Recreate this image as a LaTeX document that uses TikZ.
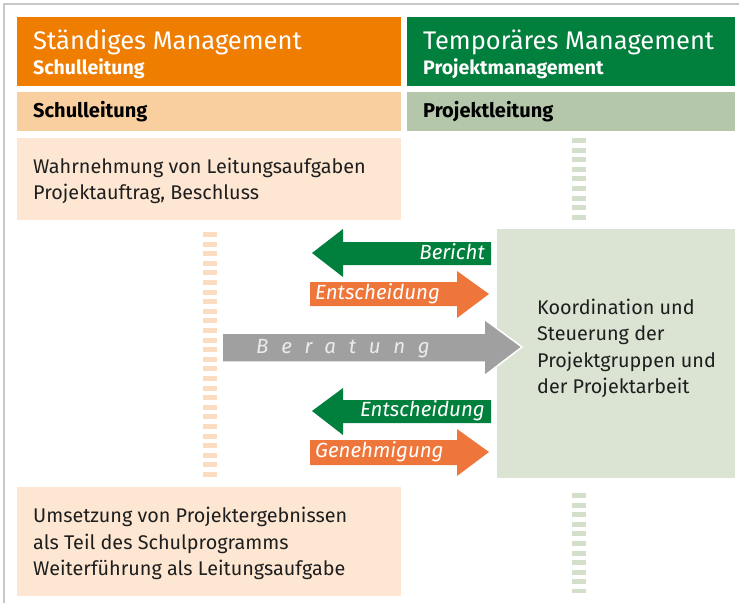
\documentclass[tikz,border=0pt]{standalone}
\usepackage{fontspec}
\setmainfont{Fira Sans}
\usetikzlibrary{positioning}

\definecolor{mgmtOrange}{RGB}{239,125,0}
\definecolor{mgmtGreen}{RGB}{0,127,61}
\definecolor{rowOrange}{RGB}{249,207,160}
\definecolor{rowGreen}{RGB}{180,199,170}
\definecolor{paleOrange}{RGB}{253,231,211}
\definecolor{paleGreen}{RGB}{219,228,211}
\definecolor{arrOrange}{RGB}{238,118,58}
\definecolor{arrGreen}{RGB}{0,128,60}
\definecolor{arrGray}{RGB}{160,160,160}
\definecolor{stripeOrange}{RGB}{251,222,193}
\definecolor{stripeGreen}{RGB}{212,223,203}
\definecolor{frameGray}{RGB}{200,200,200}
\definecolor{bodyText}{RGB}{30,30,30}

\tikzset{%
  % Specifications for style of nodes:
        base/.style = {rectangle, inner sep=0pt, outer sep=0pt,
                       anchor=north west},
   headLeft/.style = {base, fill=mgmtOrange, minimum width=384pt,
                      minimum height=69pt},
  headRight/.style = {base, fill=mgmtGreen, minimum width=328pt,
                      minimum height=69pt},
    rowLeft/.style = {base, fill=rowOrange, minimum width=384pt,
                      minimum height=39pt},
   rowRight/.style = {base, fill=rowGreen, minimum width=328pt,
                      minimum height=39pt},
    taskbox/.style = {base, fill=paleOrange, minimum width=384pt},
   steerbox/.style = {base, fill=paleGreen, minimum width=238pt,
                      minimum height=249pt},
      title/.style = {anchor=base west, inner sep=0pt, text=white,
                      font=\fontsize{25.5}{30}\selectfont},
   subtitle/.style = {anchor=base west, inner sep=0pt, text=white,
                      font=\fontsize{19.5}{22}\selectfont\bfseries},
     rowtxt/.style = {anchor=west, inner sep=0pt, text=black,
                      font=\fontsize{20}{22}\selectfont\bfseries},
     boxtxt/.style = {anchor=west, align=left, inner sep=0pt,
                      text=bodyText, font=\fontsize{19.8}{26.5}\selectfont},
   arrowtxt/.style = {inner sep=0pt, text=white, text height=14pt,
                      text depth=4pt,
                      font=\fontsize{20.5}{22}\selectfont\itshape},
     stripe/.style = {line width=14pt, dash pattern=on 5pt off 4.6pt},
}

\begin{document}
\begin{tikzpicture}[x=1pt, y=-1pt]
\useasboundingbox (0,0) rectangle (739,603);

% frame
\draw[frameGray, line width=1.6pt] (4,603) -- (4,4) -- (739,4);

% header
\node (hdrL) [headLeft] at (17,17) {};
\node (hdrR) [headRight] at (407,17) {};
\node (titleL) [title] at ([shift={(16,32)}]hdrL.north west)
  {Ständiges Management};
\node (subL) [subtitle] at ([shift={(16,57)}]hdrL.north west)
  {Schulleitung};
\node (titleR) [title] at ([shift={(16,32)}]hdrR.north west)
  {Temporäres Management};
\node (subR) [subtitle] at ([shift={(16,57)}]hdrR.north west)
  {Projektmanagement};

\node (rowL) [rowLeft] at (17,92) {};
\node (rowR) [rowRight] at (407,92) {};
\node [rowtxt, right=16pt of rowL.west] {Schulleitung};
\node [rowtxt, right=16pt of rowR.west] {Projektleitung};

% tasks of the school management
\node (taskTop) [taskbox, minimum height=82pt] at (17,138) {};
\node [boxtxt, right=16pt of taskTop.west, yshift=-2pt]
  {Wahrnehmung von Leitungsaufgaben\\Projektauftrag, Beschluss};

\node (taskBot) [taskbox, minimum height=109pt] at (17,487) {};
\node [boxtxt, right=16pt of taskBot.west, yshift=-2pt]
  {Umsetzung von Projektergebnissen\\als Teil des Schulprogramms\\
   Weiterführung als Leitungsaufgabe};

% project steering
\node (steer) [steerbox] at (497,229) {};
\node [boxtxt, right=40pt of steer.west, yshift=5pt]
  {Koordination und\\Steuerung der\\Projektgruppen und\\der Projektarbeit};

% dashed stripes
\draw[stripe, stripeOrange] (210,232) -- (210,479);
\draw[stripe, stripeGreen] (579,138) -- (579,221);
\draw[stripe, stripeGreen] (579,493) -- (579,593);

% arrows
\fill[arrGreen] (312,253) -- (343,229) -- (343,242) -- (491,242)
  -- (491,265) -- (343,265) -- (343,277) -- cycle;
\node (bericht) [arrowtxt, anchor=east] at (485,254) {Bericht};

\fill[arrOrange] (489,294) -- (457,271) -- (457,282) -- (310,282)
  -- (310,306) -- (457,306) -- (457,318) -- cycle;
\node (entsch1) [arrowtxt, anchor=west] at (315,294) {Entscheidung};

\filldraw[arrGray, draw=white, line width=1.5pt] (522,347) -- (484,319)
  -- (484,333) -- (222,333) -- (222,362) -- (484,362) -- (484,376) -- cycle;
\node (beratung) [arrowtxt, anchor=west, text=white!92!black]
  at (256,348) {\addfontfeature{LetterSpace=62}Beratung};

\fill[arrGreen] (312,411) -- (343,388) -- (343,400) -- (491,400)
  -- (491,423) -- (343,423) -- (343,435) -- cycle;
\node (entsch2) [arrowtxt, anchor=east] at (485,411) {Entscheidung};

\fill[arrOrange] (489,452) -- (457,429) -- (457,440) -- (310,440)
  -- (310,465) -- (457,465) -- (457,476) -- cycle;
\node (genehm) [arrowtxt, anchor=west] at (315,452) {Genehmigung};
\end{tikzpicture}
\end{document}
